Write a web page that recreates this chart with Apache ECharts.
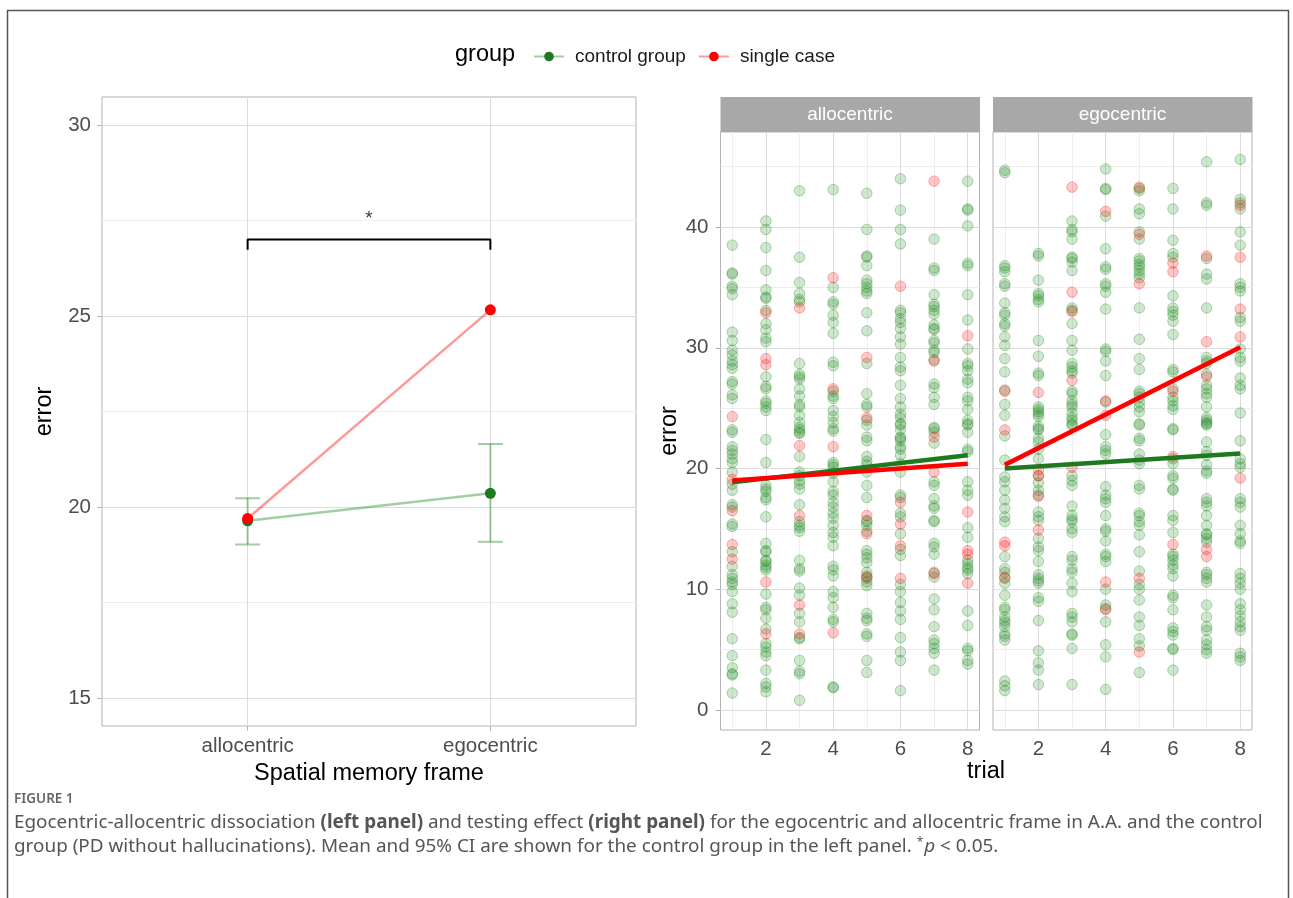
<!DOCTYPE html>
<html>
<head>
<meta charset="utf-8">
<title>Figure 1</title>
<script src="https://cdn.jsdelivr.net/npm/echarts@6/dist/echarts.min.js"></script>
<style>
  html, body { margin: 0; padding: 0; background: #fff; }
  #chart { width: 1293px; height: 898px; }
</style>
</head>
<body>
<div id="chart"></div>
<script>
// left panel: mean error per frame
const frames = ["allocentric", "egocentric"];
const controlMean = [19.64, 20.36];
const controlLow = [19.02, 19.09];
const controlHigh = [20.23, 21.65];
const singleCaseMean = [19.70, 25.16];
const bracketTop = 27.0;
const bracketFoot = 26.73;
const starLevel = 27.55;

const leftTicks = [15, 20, 25, 30];
const leftMinor = [17.5, 22.5, 27.5];

// right panel: errors per trial (one inner array per trial 1..8)
const trials = [1, 2, 3, 4, 5, 6, 7, 8];
const trialTicks = [2, 4, 6, 8];
const trialMinor = [1, 3, 5, 7];
const errorTicks = [0, 10, 20, 30, 40];
const errorMinor = [5, 15, 25, 35, 45];

const allocControl = [
  [38.5, 36.2, 36.1, 35.1, 34.9, 34.4, 31.3, 30.6, 29.8, 29.4, 28.9, 28.6, 28.3, 27.2, 27.0, 26.1, 25.8, 23.2, 23.0, 21.8, 21.5, 21.2, 20.8, 20.5, 19.7, 18.7, 18.2, 17.0, 16.8, 15.4, 15.2, 13.1, 11.9, 11.2, 10.9, 10.6, 10.4, 9.8, 8.8, 8.1, 5.9, 4.5, 3.5, 3.0, 2.9, 1.4],
  [40.5, 39.8, 38.3, 36.4, 34.8, 34.2, 34.1, 33.1, 32.0, 31.5, 30.8, 30.5, 27.6, 26.8, 26.6, 25.6, 25.4, 25.1, 24.8, 22.4, 20.5, 18.6, 18.3, 18.1, 17.6, 17.4, 16.0, 13.8, 13.2, 13.1, 12.4, 12.3, 12.0, 11.8, 11.6, 9.6, 8.5, 8.3, 7.6, 6.7, 5.5, 5.2, 4.8, 4.5, 3.3, 2.2, 1.9, 1.5],
  [43.0, 37.5, 35.4, 34.5, 34.0, 33.8, 28.7, 27.8, 27.6, 27.4, 26.6, 26.0, 25.3, 25.1, 24.4, 23.8, 23.4, 23.2, 23.0, 22.9, 21.0, 19.7, 19.4, 19.0, 18.7, 18.3, 17.0, 15.6, 15.3, 15.1, 14.8, 12.4, 11.7, 11.5, 10.1, 9.5, 8.0, 7.3, 6.0, 5.9, 4.1, 3.2, 3.0, 0.8],
  [43.1, 35.0, 33.8, 33.6, 32.7, 32.1, 31.2, 28.8, 28.5, 26.4, 26.0, 25.8, 24.8, 24.3, 23.8, 23.3, 23.1, 20.5, 20.3, 20.1, 19.6, 18.9, 18.1, 17.8, 17.2, 16.8, 16.3, 15.9, 15.3, 14.7, 14.3, 13.6, 11.9, 11.6, 11.1, 9.8, 9.3, 8.5, 7.5, 7.3, 1.9, 1.85],
  [42.8, 39.8, 37.6, 37.5, 36.8, 35.6, 35.3, 35.0, 34.7, 34.5, 32.9, 31.4, 28.7, 26.2, 25.3, 25.1, 24.0, 23.6, 22.6, 22.3, 21.0, 20.6, 20.3, 19.7, 18.6, 17.6, 15.7, 15.6, 15.3, 14.8, 13.2, 12.9, 12.6, 12.2, 11.4, 11.1, 10.9, 10.6, 10.3, 8.0, 7.6, 7.4, 6.3, 6.1, 4.1, 3.1],
  [44.0, 41.4, 39.8, 38.6, 33.1, 32.9, 32.4, 32.1, 31.6, 30.9, 30.3, 29.2, 28.4, 28.1, 26.9, 25.8, 25.1, 24.5, 24.2, 23.7, 23.6, 23.2, 22.6, 22.5, 22.3, 21.8, 21.6, 21.1, 20.4, 19.7, 17.8, 17.6, 16.3, 16.0, 14.6, 13.3, 12.8, 10.4, 9.8, 8.9, 8.2, 7.5, 6.0, 4.8, 4.1, 1.6],
  [39.0, 36.6, 36.4, 34.4, 33.6, 33.4, 33.1, 32.8, 31.9, 31.6, 31.5, 30.6, 30.4, 29.8, 29.6, 29.0, 27.0, 26.7, 25.9, 25.3, 23.4, 23.3, 23.0, 22.1, 18.9, 18.6, 17.5, 16.9, 16.7, 15.7, 15.6, 13.8, 13.5, 12.9, 11.4, 11.0, 9.2, 8.3, 6.9, 5.8, 5.5, 5.1, 4.7, 3.3],
  [43.8, 41.5, 41.4, 40.1, 37.0, 36.8, 34.4, 32.3, 29.9, 28.7, 28.5, 28.1, 27.4, 27.1, 25.9, 25.6, 24.9, 24.0, 23.7, 23.6, 23.0, 21.6, 21.4, 18.9, 18.2, 17.8, 15.1, 14.3, 12.4, 12.1, 11.8, 11.6, 11.3, 8.2, 7.0, 5.1, 4.9, 4.1, 3.8],
];
const allocSingle = [
  [24.3, 19.1, 16.5, 13.7, 12.5],
  [32.9, 29.1, 28.6, 10.6, 6.3],
  [33.3, 21.9, 16.1, 8.7, 6.3],
  [35.8, 26.6, 21.8, 6.4],
  [29.2, 24.2, 16.1, 14.6, 11.0],
  [35.1, 17.2, 15.4, 13.6, 10.9],
  [43.8, 28.9, 22.6, 19.7, 11.3],
  [31.0, 16.4, 13.2, 12.9, 10.5],
];
const egoControl = [
  [44.7, 44.5, 36.8, 36.6, 36.3, 35.3, 35.1, 33.7, 32.9, 32.7, 32.0, 31.8, 30.9, 30.2, 29.1, 28.0, 26.5, 25.3, 24.4, 22.7, 20.7, 19.3, 18.9, 18.2, 17.4, 16.7, 16.0, 15.6, 12.7, 11.7, 11.4, 10.9, 10.5, 9.5, 8.5, 8.3, 7.7, 7.4, 7.2, 6.9, 6.3, 6.1, 5.8, 2.4, 2.0, 1.6],
  [37.8, 37.6, 35.6, 34.5, 34.3, 34.0, 33.8, 30.6, 29.3, 27.9, 27.7, 25.1, 24.9, 24.7, 24.5, 24.3, 23.5, 23.3, 23.2, 22.5, 22.2, 21.6, 20.8, 19.4, 18.8, 18.2, 17.8, 16.4, 16.0, 15.7, 14.2, 13.5, 13.2, 12.3, 11.2, 10.9, 10.7, 10.5, 9.3, 9.0, 7.4, 4.9, 3.9, 3.3, 2.1],
  [40.5, 39.8, 39.6, 39.0, 37.5, 37.4, 37.1, 36.4, 33.3, 33.1, 32.0, 30.6, 29.8, 28.7, 28.4, 28.1, 27.9, 26.4, 26.2, 25.6, 25.3, 25.1, 24.6, 24.2, 24.0, 23.7, 23.6, 19.4, 19.0, 18.6, 16.9, 16.1, 15.8, 15.6, 15.0, 14.7, 12.7, 12.4, 11.7, 11.4, 10.5, 9.8, 8.0, 7.7, 7.3, 6.3, 6.2, 5.1, 2.1],
  [44.8, 43.2, 43.1, 40.9, 38.2, 36.7, 36.5, 35.3, 35.1, 34.6, 33.2, 29.9, 29.7, 28.9, 27.7, 25.5, 22.8, 21.8, 21.5, 21.2, 18.5, 17.8, 17.5, 17.2, 16.1, 15.0, 14.8, 14.0, 12.9, 12.7, 12.3, 10.0, 8.7, 8.4, 7.3, 5.4, 4.4, 1.7],
  [43.2, 43.0, 41.5, 41.1, 39.6, 39.0, 37.4, 37.2, 36.9, 36.7, 36.4, 36.1, 35.8, 33.3, 30.7, 29.1, 28.2, 26.4, 26.2, 25.9, 25.5, 25.1, 24.7, 23.7, 23.6, 22.5, 22.3, 21.2, 20.7, 20.4, 18.6, 18.3, 16.3, 16.1, 15.6, 15.3, 14.5, 13.1, 11.5, 10.4, 10.0, 9.1, 7.7, 7.0, 5.9, 5.3, 3.1],
  [43.2, 41.5, 38.9, 37.8, 37.5, 34.3, 33.3, 33.0, 32.7, 32.2, 31.1, 28.2, 28.0, 26.6, 25.9, 25.6, 25.2, 24.9, 23.3, 23.2, 20.8, 20.4, 19.4, 19.2, 18.3, 18.2, 16.1, 15.7, 14.7, 12.9, 12.7, 12.4, 12.0, 11.7, 11.1, 9.5, 9.3, 8.3, 6.8, 6.5, 6.2, 5.1, 5.0, 3.3],
  [45.4, 42.0, 41.8, 37.4, 36.1, 35.7, 33.3, 29.2, 28.9, 28.7, 27.8, 26.9, 26.6, 26.2, 25.9, 25.1, 24.2, 24.0, 23.8, 23.7, 23.6, 22.2, 21.4, 21.1, 20.3, 19.8, 19.6, 17.5, 17.2, 16.9, 16.1, 15.3, 14.6, 14.5, 14.2, 13.9, 11.4, 11.2, 10.9, 10.6, 8.7, 7.7, 6.9, 6.6, 5.8, 5.4, 5.0, 4.7],
  [45.6, 42.3, 42.0, 41.5, 39.6, 38.5, 35.3, 35.0, 34.7, 32.5, 32.2, 29.9, 29.2, 28.9, 27.5, 26.9, 26.6, 24.6, 22.3, 20.8, 20.4, 20.1, 17.5, 17.2, 16.8, 15.3, 14.6, 14.0, 13.8, 11.3, 10.9, 10.5, 10.0, 8.8, 8.3, 7.8, 7.3, 6.9, 6.6, 4.7, 4.4, 4.1],
];
const egoSingle = [
  [26.4, 23.2, 13.9, 13.6, 11.0],
  [26.3, 19.9, 19.4, 17.7, 14.9],
  [43.3, 34.6, 33.0, 27.3, 20.1],
  [41.3, 25.6, 24.4, 10.6, 8.3],
  [43.3, 39.4, 35.3, 10.9, 4.8],
  [37.0, 36.3, 26.4, 21.0, 13.7],
  [37.6, 30.5, 27.6, 13.3, 12.7],
  [41.8, 37.5, 33.2, 30.9, 19.2],
];

// linear fits, value at trial 1 and trial 8
const fitTrials = [1, 8];
const allocControlFit = [18.85, 21.1];
const allocSingleFit = [19.0, 20.4];
const egoControlFit = [20.0, 21.25];
const egoSingleFit = [20.3, 30.05];

const GREEN = "#1f7a1f";
const RED = "#ff0000";
const FONT = "Liberation Sans";
const CAPTION_FONT = "Noto Sans";
const TICK_COLOR = "#4d4d4d";
const BORDER = "#b3b3b3";
const TICK_SIZE = 20.5;
const TITLE_SIZE = 23.5;

const facetLeft = [720.5, 993];
const facetTop = 132;
const facetW = 259;
const facetH = 598;

function toPoints(byTrial) {
  const pts = [];
  byTrial.forEach((vals, i) => vals.forEach((v) => pts.push([trials[i], v])));
  return pts;
}

function fitLine(vals) {
  return fitTrials.map((t, i) => [t, vals[i]]);
}

// grid lines as mark lines, so that they stay on the tick values
function gridHost(index, majorY, minorY, majorX, minorX) {
  const major = { color: "#dcdcdc", width: 1, type: "solid" };
  const minor = { color: "#eeeeee", width: 1, type: "solid" };
  const data = [
    ...minorY.map((v) => ({ yAxis: v, lineStyle: minor })),
    ...minorX.map((v) => ({ xAxis: v, lineStyle: minor })),
    ...majorY.map((v) => ({ yAxis: v, lineStyle: major })),
    ...majorX.map((v) => ({ xAxis: v, lineStyle: major })),
  ];
  return {
    type: "line",
    xAxisIndex: index,
    yAxisIndex: index,
    data: [],
    silent: true,
    z: 1,
    markLine: { silent: true, z: 1, symbol: ["none", "none"], label: { show: false }, animation: false, data },
  };
}

function facetAxes(index, showY) {
  const x = {
    type: "value",
    gridIndex: index,
    min: 0.65,
    max: 8.35,
    splitLine: { show: false },
    axisLine: { show: false },
    axisTick: { show: true, customValues: trialTicks, length: 5, lineStyle: { color: BORDER } },
    axisLabel: { customValues: trialTicks, color: TICK_COLOR, fontSize: TICK_SIZE, fontFamily: FONT, margin: 9 },
  };
  const y = {
    type: "value",
    gridIndex: index,
    min: -1.66,
    max: 47.87,
    splitLine: { show: false },
    axisLine: { show: false },
    axisTick: { show: showY, customValues: errorTicks, length: 5, lineStyle: { color: BORDER } },
    axisLabel: { show: showY, customValues: errorTicks, color: TICK_COLOR, fontSize: TICK_SIZE, fontFamily: FONT, margin: 12 },
  };
  if (showY) {
    Object.assign(y, {
      name: "error",
      nameLocation: "middle",
      nameGap: 37,
      nameTextStyle: { fontSize: TITLE_SIZE, color: "#000", fontFamily: FONT },
    });
  }
  return { x, y };
}

function facetSeries(index, control, single, controlFit, singleFit) {
  return [
    gridHost(index, errorTicks, errorMinor, trialTicks, trialMinor),
    {
      type: "scatter",
      name: "control trials",
      xAxisIndex: index,
      yAxisIndex: index,
      data: toPoints(control),
      symbolSize: 10.5,
      z: 3,
      itemStyle: { color: "rgba(34,139,34,0.27)", borderColor: "rgba(34,139,34,0.42)", borderWidth: 1 },
    },
    {
      type: "scatter",
      name: "single trials",
      xAxisIndex: index,
      yAxisIndex: index,
      data: toPoints(single),
      symbolSize: 10.5,
      z: 3,
      itemStyle: { color: "rgba(255,0,0,0.27)", borderColor: "rgba(255,0,0,0.36)", borderWidth: 1 },
    },
    {
      type: "line",
      name: "control fit",
      xAxisIndex: index,
      yAxisIndex: index,
      data: fitLine(controlFit),
      showSymbol: false,
      z: 4,
      lineStyle: { color: GREEN, width: 4.5 },
    },
    {
      type: "line",
      name: "single fit",
      xAxisIndex: index,
      yAxisIndex: index,
      data: fitLine(singleFit),
      showSymbol: false,
      z: 5,
      lineStyle: { color: RED, width: 4.5 },
    },
  ];
}

const alloFacet = facetAxes(1, true);
const egoFacet = facetAxes(2, false);

const chart = echarts.init(document.getElementById("chart"), null, { renderer: "canvas" });

chart.setOption({
  animation: false,
  backgroundColor: "#fff",
  textStyle: { fontFamily: FONT },
  legend: {
    data: ["control group", "single case"],
    left: 528,
    top: 42,
    itemWidth: 30,
    itemHeight: 12,
    itemGap: 12,
    selectedMode: false,
    textStyle: { fontSize: 19, color: "#1a1a1a", fontFamily: FONT, padding: [0, 0, 0, 6] },
  },
  grid: [
    { left: 102, top: 97, width: 534, height: 629, show: true, borderColor: BORDER, borderWidth: 1, backgroundColor: "#fff" },
    { left: facetLeft[0], top: facetTop, width: facetW, height: facetH, show: true, borderColor: BORDER, borderWidth: 1 },
    { left: facetLeft[1], top: facetTop, width: facetW, height: facetH, show: true, borderColor: BORDER, borderWidth: 1 },
  ],
  xAxis: [
    {
      type: "value",
      gridIndex: 0,
      min: 0.4,
      max: 2.6,
      splitLine: { show: false },
      axisLine: { show: false },
      axisTick: { show: true, customValues: [1, 2], length: 5, lineStyle: { color: BORDER } },
      axisLabel: {
        customValues: [1, 2],
        formatter: (v) => frames[v - 1],
        color: TICK_COLOR,
        fontSize: TICK_SIZE,
        fontFamily: FONT,
        margin: 10,
      },
      name: "Spatial memory frame",
      nameLocation: "middle",
      nameGap: 34,
      nameTextStyle: { fontSize: TITLE_SIZE, color: "#000", fontFamily: FONT },
    },
    alloFacet.x,
    egoFacet.x,
  ],
  yAxis: [
    {
      type: "value",
      gridIndex: 0,
      min: 14.27,
      max: 30.73,
      splitLine: { show: false },
      axisLine: { show: false },
      axisTick: { show: true, customValues: leftTicks, length: 5, lineStyle: { color: BORDER } },
      axisLabel: { customValues: leftTicks, color: TICK_COLOR, fontSize: TICK_SIZE, fontFamily: FONT, margin: 11 },
      name: "error",
      nameLocation: "middle",
      nameGap: 45,
      nameTextStyle: { fontSize: TITLE_SIZE, color: "#000", fontFamily: FONT },
    },
    alloFacet.y,
    egoFacet.y,
  ],
  series: [
    gridHost(0, leftTicks, leftMinor, [1, 2], []),
    {
      // 95% CI of the control group
      type: "custom",
      name: "control ci",
      xAxisIndex: 0,
      yAxisIndex: 0,
      z: 2,
      data: frames.map((f, i) => [i + 1, controlLow[i], controlHigh[i]]),
      renderItem: (params, api) => {
        const lo = api.coord([api.value(0), api.value(1)]);
        const hi = api.coord([api.value(0), api.value(2)]);
        const hw = 12.5;
        const style = { stroke: "rgba(34,139,34,0.42)", lineWidth: 2 };
        return {
          type: "group",
          children: [
            { type: "line", shape: { x1: lo[0], y1: lo[1], x2: hi[0], y2: hi[1] }, style },
            { type: "line", shape: { x1: lo[0] - hw, y1: lo[1], x2: lo[0] + hw, y2: lo[1] }, style },
            { type: "line", shape: { x1: hi[0] - hw, y1: hi[1], x2: hi[0] + hw, y2: hi[1] }, style },
          ],
        };
      },
    },
    {
      type: "line",
      name: "control group",
      xAxisIndex: 0,
      yAxisIndex: 0,
      z: 3,
      data: controlMean.map((v, i) => [i + 1, v]),
      symbol: "circle",
      symbolSize: 11,
      itemStyle: { color: GREEN },
      lineStyle: { color: "rgba(34,139,34,0.42)", width: 2.5 },
    },
    {
      type: "line",
      name: "single case",
      xAxisIndex: 0,
      yAxisIndex: 0,
      z: 4,
      data: singleCaseMean.map((v, i) => [i + 1, v]),
      symbol: "circle",
      symbolSize: 11,
      itemStyle: { color: RED },
      lineStyle: { color: "rgba(255,0,0,0.4)", width: 2.5 },
    },
    {
      type: "line",
      name: "bracket",
      xAxisIndex: 0,
      yAxisIndex: 0,
      z: 4,
      data: [[1, bracketFoot], [1, bracketTop], [2, bracketTop], [2, bracketFoot]],
      showSymbol: false,
      lineStyle: { color: "#000", width: 2 },
    },
    {
      type: "scatter",
      name: "star",
      xAxisIndex: 0,
      yAxisIndex: 0,
      data: [[1.5, starLevel]],
      symbolSize: 0,
      label: { show: true, position: "inside", formatter: "*", fontSize: 19, color: "#000", fontFamily: FONT },
    },
    ...facetSeries(1, allocControl, allocSingle, allocControlFit, allocSingleFit),
    ...facetSeries(2, egoControl, egoSingle, egoControlFit, egoSingleFit),
  ],
  graphic: [
    {
      type: "polyline",
      shape: { points: [[7.5, 898], [7.5, 10.5], [1288.5, 10.5], [1288.5, 898]] },
      style: { stroke: "#555", lineWidth: 1.5, fill: null },
    },
    {
      type: "text",
      x: 455,
      y: 55,
      style: { text: "group", fontSize: TITLE_SIZE, fontFamily: FONT, fill: "#000", verticalAlign: "middle" },
    },
    ...frames.map((f, i) => ({
      type: "group",
      left: facetLeft[i],
      top: 97,
      children: [
        { type: "rect", shape: { x: 0, y: 0, width: facetW + 0.5, height: 35 }, style: { fill: "#a8a8a8" } },
        {
          type: "text",
          x: facetW / 2,
          y: 18,
          style: { text: f, fontSize: 19, fontFamily: FONT, fill: "#fff", align: "center", verticalAlign: "middle" },
        },
      ],
    })),
    {
      type: "text",
      x: 986,
      y: 772,
      style: { text: "trial", fontSize: TITLE_SIZE, fontFamily: FONT, fill: "#000", align: "center", verticalAlign: "middle" },
    },
    {
      type: "text",
      x: 14,
      y: 799,
      style: { text: "FIGURE 1", fontSize: 13.5, fontWeight: 600, fontFamily: CAPTION_FONT, fill: "#666", verticalAlign: "middle" },
    },
    {
      type: "text",
      x: 14,
      y: 823,
      style: {
        text: "Egocentric-allocentric dissociation {b|(left panel)} and testing effect {b|(right panel)} for the egocentric and allocentric frame in A.A. and the control",
        fontSize: 18.9,
        fontFamily: CAPTION_FONT,
        fill: "#555",
        verticalAlign: "middle",
        rich: { b: { fontWeight: "bold", fontSize: 18.9, fontFamily: CAPTION_FONT, fill: "#555" } },
      },
    },
    {
      type: "text",
      x: 14,
      y: 847,
      style: {
        text: "group (PD without hallucinations). Mean and 95% CI are shown for the control group in the left panel. {sup|*}{i|p} < 0.05.",
        fontSize: 18.9,
        fontFamily: CAPTION_FONT,
        fill: "#555",
        verticalAlign: "middle",
        rich: {
          sup: { fontSize: 12, fontFamily: CAPTION_FONT, fill: "#555", verticalAlign: "top", padding: [0, 1, 9, 0] },
          i: { fontStyle: "italic", fontSize: 18.9, fontFamily: CAPTION_FONT, fill: "#555" },
        },
      },
    },
  ],
});
</script>
</body>
</html>
